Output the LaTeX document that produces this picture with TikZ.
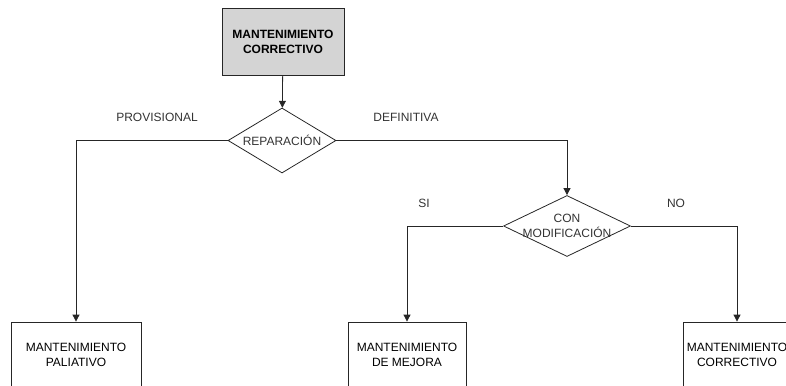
\documentclass[tikz,border=0pt]{standalone}
\usepackage{fontspec}
\setmainfont{Liberation Sans}
\usetikzlibrary{shapes.geometric,arrows.meta}

\tikzset{
    caja/.style={draw=black!85, line width=0.8pt, minimum width=118pt, minimum height=66pt, align=center},
    rombo/.style={diamond, draw=black!85, line width=0.8pt, inner sep=0pt},
    flecha/.style={line width=0.8pt, draw=black!85, -{Triangle[length=7pt,width=7pt]}},
    rotulo/.style={text=black!80}
}

\begin{document}
\begin{tikzpicture}[x=1pt, y=-1pt, font=\fontsize{12}{15}\selectfont]
            \useasboundingbox (0, 0) rectangle (786, 385);
            \clip (0, 0) rectangle (786, 385);

            % cajas
            \node[caja, fill=black!17, minimum width=122pt, minimum height=67pt, font=\fontsize{12}{15}\selectfont\bfseries] (top) at (283, 41.5) {MANTENIMIENTO\\CORRECTIVO};
            \node[caja, minimum width=130pt] (pal) at (76, 355) {MANTENIMIENTO\\PALIATIVO};
            \node[caja] (mej) at (407, 355) {MANTENIMIENTO\\DE MEJORA};
            \node[caja, minimum width=108pt] (cor) at (737, 355) {MANTENIMIENTO\\CORRECTIVO};

            % decisiones
            \node[rombo, minimum width=108pt, minimum height=65pt, label={[rotulo]center:REPARACIÓN}] (rep) at (282, 140.5) {};
            \node[rombo, minimum width=127pt, minimum height=61pt, label={[rotulo, align=center]center:CON\\MODIFICACIÓN}] (mod) at (567, 226) {};

            % conectores
            \draw[flecha] (top) -- (rep);
            \draw[flecha] (rep.west) -| (pal.north);
            \draw[flecha] (rep.east) -| (mod.north);
            \draw[flecha] (mod.west) -| (mej.north);
            \draw[flecha] (mod.east) -| (cor.north);

            \node[rotulo] at (157, 117) {PROVISIONAL};
            \node[rotulo] at (406, 117) {DEFINITIVA};
            \node[rotulo] at (424, 203) {SI};
            \node[rotulo] at (676, 203) {NO};
        \end{tikzpicture}
\end{document}
